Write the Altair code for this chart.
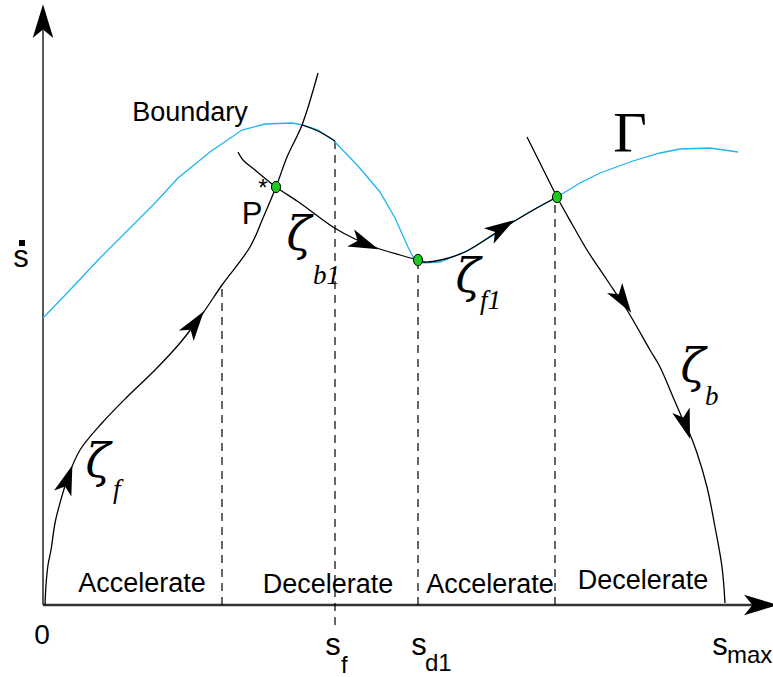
import math
import altair as alt
import pandas as pd

# Phase plane: s along the path (horizontal), s-dot (vertical); origin at the axis corner.

# velocity limit curve (Gamma)
boundary_s = [0, 27, 57, 87, 112, 135, 167, 199, 222, 249, 260, 275, 290, 315, 337, 352, 365,
              370, 377, 397, 424, 454, 470, 492, 514, 537, 557, 590, 617, 637, 667, 695]
boundary_v = [287, 315, 347, 377, 402, 427, 453, 475, 481, 482, 480, 475, 465, 439, 413, 387, 358,
              348, 342, 343, 354, 372, 383, 396, 408, 422, 432, 444, 452, 456, 457, 453]

# forward integration from the origin (zeta_f)
zf_s = [2, 3, 5, 8, 12, 17, 25, 37, 59, 84, 112, 137, 160, 179, 207, 220, 233, 244, 259, 275]
zf_v = [0, 20, 40, 55, 82, 102, 128, 155, 182, 208, 235, 262, 292, 320, 358, 387, 418, 448, 480, 532]

# short trajectory touching the limit curve
touch_s = [259, 275, 292]
touch_v = [480, 474, 464]

# backward integration zeta_b1
zb1_s = [195, 200, 212, 233, 257, 290, 312, 334, 357, 375]
zb1_v = [453, 445, 435, 418, 402, 378, 366, 357, 350, 345]

# forward integration zeta_f1
zf1_s = [375, 382, 402, 424, 454, 470, 492, 514]
zf1_v = [345, 343, 346, 354, 373, 383, 396, 408]

# backward integration from s_max (zeta_b)
zb_s = [484, 499, 514, 529, 544, 564, 584, 607, 617, 630, 640, 646, 654, 664, 672, 679, 682]
zb_v = [468, 438, 408, 381, 355, 325, 295, 255, 238, 208, 185, 173, 152, 118, 78, 38, 2]

# switching points
switch_s = [233, 375, 514]
switch_v = [418, 345, 408]

# direction arrows along the trajectories: centre and heading
arrow_s = [24, 151, 320, 457, 579, 642]
arrow_v = [124, 280, 362, 376, 306, 182]
arrow_ds = [12, 23, 22, 16, 20, 12]
arrow_dv = [35, 32, -9, 10, -30, -38]

# axis arrowheads
axis_arrow_s = [0, 716]
axis_arrow_v = [582, 0]
axis_arrow_ds = [0, 1]
axis_arrow_dv = [1, 0]

# dashed markers between phases
dash_s = [179, 292, 375, 512]
dash_v0 = [0, -20, 0, 0]
dash_v1 = [320, 465, 345, 408]

# labels
phase_text = ["Boundary", "Accelerate", "Decelerate", "Accelerate", "Decelerate",
              "0", "s", "s", "s", "s", "P"]
phase_s = [147, 99, 285, 447, 600, -1, 290, 376, 677, -22, 209]
phase_v = [484, 13, 12, 12, 16, -39, -50, -50, -50, 338, 381]
phase_fs = [27, 27, 27, 27, 27, 28, 31, 31, 31, 31, 31]

sub_text = ["f", "d1", "max"]
sub_s = [298, 382, 684]
sub_v = [-68, -66, -58]

star_s = [220]
star_v = [409]

zeta_text = ["ζ", "ζ", "ζ", "ζ"]
zeta_s = [256, 55, 425, 650]
zeta_v = [355, 128, 313, 223]

zsub_text = ["b1", "f", "f1", "b"]
zsub_s = [270, 70, 437, 662]
zsub_v = [321, 107, 296, 200]

gamma_s = [587]
gamma_v = [453]

dot_s = [-21]
dot_v = [362]

SANS = "Liberation Sans"
SERIF = "Liberation Serif"
ZETA_FONT = "DejaVu Serif"

xs = alt.Scale(domain=[-43, 730], range=[0, 773], nice=False, zero=False)
ys = alt.Scale(domain=[-72, 605], range=[677, 0], nice=False, zero=False)


def X(field="s"):
    return alt.X(f"{field}:Q", scale=xs, axis=None)


def Y(field="v"):
    return alt.Y(f"{field}:Q", scale=ys, axis=None)


def curve(svals, vvals):
    return pd.DataFrame({"s": svals, "v": vvals, "i": range(len(svals))})


def heading(ds, dv):
    return [math.degrees(math.atan2(a, b)) % 360 for a, b in zip(ds, dv)]


ARROW = "M0,-1L0.55,0.8L0,0.35L-0.55,0.8Z"
ELLIPSE = "M-0.8,0A0.8,1,0,1,1,0.8,0A0.8,1,0,1,1,-0.8,0Z"

layers = []

# axes
axes_df = pd.DataFrame({"s": [0, 0], "v": [0, 0], "s2": [0, 717], "v2": [575, 0],
                        "w": [1.3, 2.4], "c": ["#000000", "#333333"]})
layers.append(
    alt.Chart(axes_df).mark_rule().encode(
        x=X(), y=Y(), x2="s2:Q", y2="v2:Q",
        strokeWidth=alt.StrokeWidth("w:Q", scale=None),
        color=alt.Color("c:N", scale=None),
    )
)
axis_arrow_df = pd.DataFrame({"s": axis_arrow_s, "v": axis_arrow_v,
                              "a": heading(axis_arrow_ds, axis_arrow_dv)})
layers.append(
    alt.Chart(axis_arrow_df).mark_point(shape=ARROW, filled=True, color="#000000",
                                        opacity=1, size=1400, strokeWidth=0).encode(
        x=X(), y=Y(), angle=alt.Angle("a:Q", scale=None)
    )
)

# dashed phase markers
dash_df = pd.DataFrame({"s": dash_s, "v": dash_v0, "v2": dash_v1})
layers.append(
    alt.Chart(dash_df).mark_rule(color="#000000", strokeWidth=1.2, strokeDash=[8, 6]).encode(
        x=X(), y=Y(), y2="v2:Q"
    )
)

# limit curve
layers.append(
    alt.Chart(curve(boundary_s, boundary_v)).mark_line(color="#1eb4f0", strokeWidth=1.3).encode(
        x=X(), y=Y(), order="i:Q"
    )
)

# trajectories
for sv, vv in [(zf_s, zf_v), (touch_s, touch_v), (zb1_s, zb1_v), (zf1_s, zf1_v), (zb_s, zb_v)]:
    layers.append(
        alt.Chart(curve(sv, vv)).mark_line(color="#000000", strokeWidth=1.3,
                                           interpolate="catmull-rom").encode(
            x=X(), y=Y(), order="i:Q"
        )
    )

# direction arrows
arrow_df = pd.DataFrame({"s": arrow_s, "v": arrow_v, "a": heading(arrow_ds, arrow_dv)})
layers.append(
    alt.Chart(arrow_df).mark_point(shape=ARROW, filled=True, color="#000000",
                                   opacity=1, size=1100, strokeWidth=0).encode(
        x=X(), y=Y(), angle=alt.Angle("a:Q", scale=None)
    )
)

# switching points
layers.append(
    alt.Chart(curve(switch_s, switch_v)).mark_point(
        shape=ELLIPSE, filled=True, fill="#1ec81e", stroke="#000000", strokeWidth=1,
        opacity=1, size=130).encode(x=X(), y=Y())
)

# dot over the vertical axis label
layers.append(
    alt.Chart(curve(dot_s, dot_v)).mark_square(color="#000000", opacity=1, size=36).encode(
        x=X(), y=Y()
    )
)

# text labels
phase_df = pd.DataFrame({"s": phase_s, "v": phase_v, "t": phase_text, "fs": phase_fs})
layers.append(
    alt.Chart(phase_df).mark_text(font=SANS, align="center", baseline="alphabetic",
                                  color="#000000").encode(
        x=X(), y=Y(), text="t:N", size=alt.Size("fs:Q", scale=None)
    )
)
sub_df = pd.DataFrame({"s": sub_s, "v": sub_v, "t": sub_text})
layers.append(
    alt.Chart(sub_df).mark_text(font=SANS, align="left", baseline="alphabetic",
                                fontSize=24, color="#000000").encode(
        x=X(), y=Y(), text="t:N"
    )
)
star_df = pd.DataFrame({"s": star_s, "v": star_v, "t": ["*"]})
layers.append(
    alt.Chart(star_df).mark_text(font=SANS, align="center", baseline="alphabetic",
                                 fontSize=24, color="#000000").encode(
        x=X(), y=Y(), text="t:N"
    )
)
zeta_df = pd.DataFrame({"s": zeta_s, "v": zeta_v, "t": zeta_text})
layers.append(
    alt.Chart(zeta_df).mark_text(font=ZETA_FONT, fontStyle="italic", align="center",
                                 baseline="alphabetic", fontSize=46, color="#000000").encode(
        x=X(), y=Y(), text="t:N"
    )
)
zsub_df = pd.DataFrame({"s": zsub_s, "v": zsub_v, "t": zsub_text})
layers.append(
    alt.Chart(zsub_df).mark_text(font=SERIF, fontStyle="italic", align="left",
                                 baseline="alphabetic", fontSize=27, color="#000000").encode(
        x=X(), y=Y(), text="t:N"
    )
)
gamma_df = pd.DataFrame({"s": gamma_s, "v": gamma_v, "t": ["Γ"]})
layers.append(
    alt.Chart(gamma_df).mark_text(font=SERIF, align="center", baseline="alphabetic",
                                  fontSize=58, color="#000000").encode(
        x=X(), y=Y(), text="t:N"
    )
)

chart = alt.layer(*layers).properties(
    width=773, height=677, padding=0, autosize=alt.AutoSizeParams(type="none"),
    background="#ffffff",
).configure_view(stroke=None)

chart.save("out.html", embed_options={"renderer": "svg", "actions": False})
